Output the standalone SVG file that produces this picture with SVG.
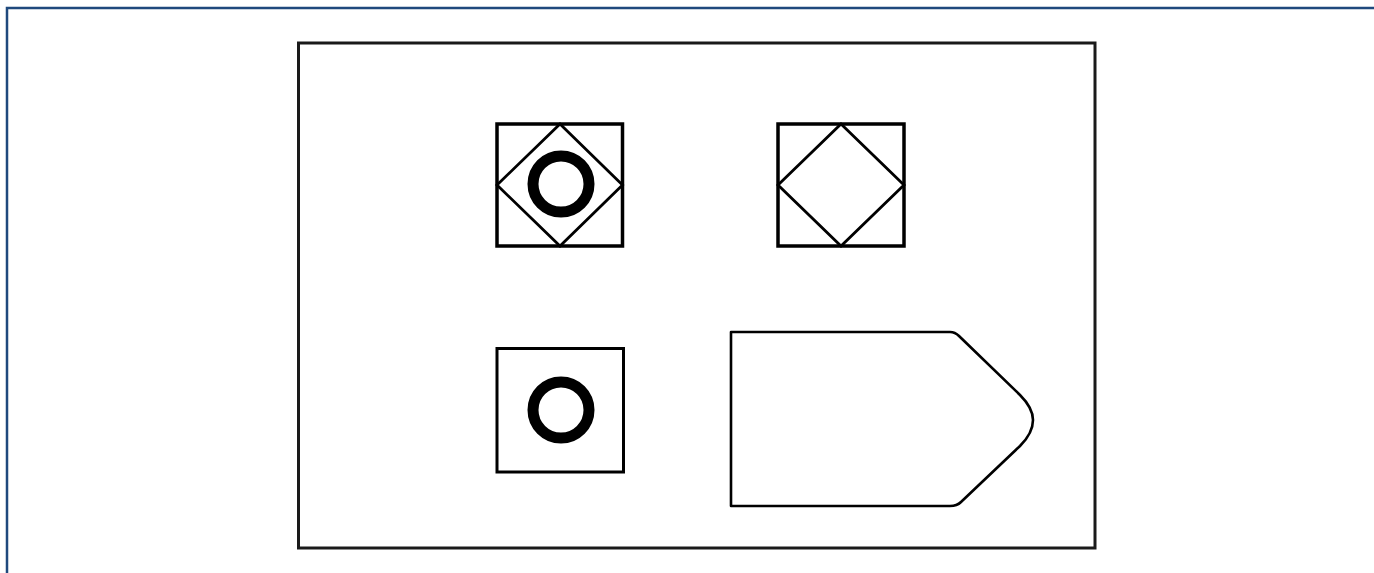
<svg xmlns="http://www.w3.org/2000/svg" width="1374" height="573" viewBox="0 0 1374 573">
<style>
.frame{fill:none;stroke:#1f497d;stroke-width:2.5}
.panel{fill:#fff;stroke:#1a1a1a;stroke-width:3}
.box{fill:none;stroke:#000;stroke-width:3.5}
.dia{fill:none;stroke:#000;stroke-width:2.8}
.ring{fill:none;stroke:#000;stroke-width:11}
.tag{fill:none;stroke:#000;stroke-width:2.6;stroke-linejoin:round}
</style>
<rect width="1374" height="573" fill="#fff"/>
<path class="frame" d="M7,580 V8 H1380"/>
<g id="panel"><rect class="panel" x="298.5" y="43" width="796.5" height="505"/></g>
<g id="node-box-diamond-circle">
<rect class="box" x="497" y="124" width="125.5" height="122"/>
<polygon class="dia" points="560,124 622.5,185 560,246 497,185"/>
<circle class="ring" cx="561" cy="184" r="28"/>
</g>
<g id="node-box-diamond">
<rect class="box" x="778" y="124" width="126" height="122"/>
<polygon class="dia" points="841,124 904,185 841,246 778,185"/>
</g>
<g id="node-box-circle">
<rect class="box" x="497" y="348.5" width="126.5" height="123.5" style="stroke-width:3"/>
<circle class="ring" cx="561" cy="410" r="28"/>
</g>
<g id="node-tag">
<path class="tag" d="M731,332 H950 Q955,332 959,336 L1020,395 Q1033,408 1033,420 Q1033,433 1020,446 L961,502 Q957,506 950,506 H731 Z"/>
</g>
<g id="connectors"/>
</svg>
